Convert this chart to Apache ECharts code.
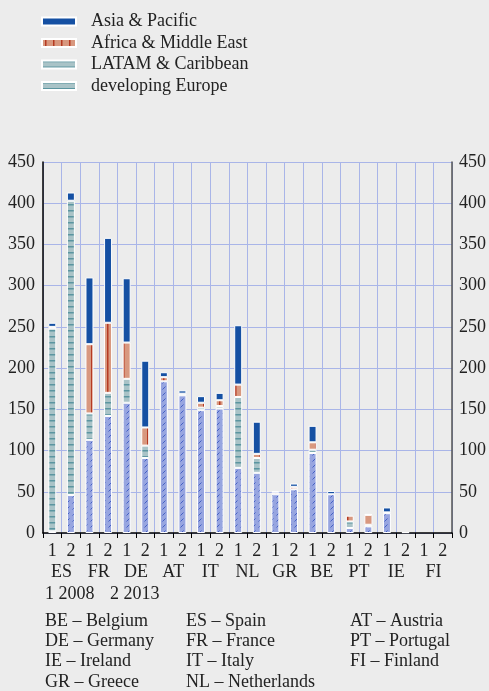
<!DOCTYPE html>
<html>
<head>
<meta charset="utf-8">
<script src="https://cdn.jsdelivr.net/npm/echarts@6/dist/echarts.min.js"></script>
<style>
  html, body { margin: 0; padding: 0; background: #ececec; }
  #chart { width: 489px; height: 691px; }
</style>
</head>
<body>
<div id="chart"></div>
<script>
// bars: 1 = 2008, 2 = 2013 for each country
const countries = ['ES', 'FR', 'DE', 'AT', 'IT', 'NL', 'GR', 'BE', 'PT', 'IE', 'FI'];
const periods = ['1', '2'];

// values, one per bar (country x period)
const devEurope = [2, 46, 113, 142, 158, 91, 184, 167, 149, 151, 79, 73, 47, 53, 97, 47, 6, 8, 24, 1, 0, 0];
const latam     = [246, 357, 32, 28, 29, 15, 0, 2, 3, 3, 86, 18, 0, 0, 4, 0, 8, 2, 1, 0, 0, 0];
const africaME  = [2, 0, 84, 85, 44, 22, 5, 0, 6, 7, 15, 5, 2, 3, 9, 0, 7, 12, 0, 0, 0, 0];
const asiaPac   = [5, 10, 81, 103, 78, 81, 6, 4, 8, 9, 72, 39, 2, 4, 20, 4, 0, 1, 6, 0, 0, 0];

const yTicks = [0, 50, 100, 150, 200, 250, 300, 350, 400, 450];

const periodNotes = ['1 2008', '2 2013'];
const countryNames = [
    ['BE – Belgium', 'ES – Spain', 'AT – Austria'],
    ['DE – Germany', 'FR – France', 'PT – Portugal'],
    ['IE – Ireland', 'IT – Italy', 'FI – Finland'],
    ['GR – Greece', 'NL – Netherlands', '']
];

const FONT = 'Liberation Serif';
const FS = 18;

// small canvas tiles for the hatched fills
function tile(w, h, base, draw) {
    const c = document.createElement('canvas');
    c.width = w; c.height = h;
    const ctx = c.getContext('2d');
    ctx.fillStyle = base;
    ctx.fillRect(0, 0, w, h);
    draw(ctx);
    return { image: c, repeat: 'repeat' };
}

const hatchBlue = tile(6, 6, '#97a5e0', (ctx) => {
    ctx.strokeStyle = '#4460c4';
    ctx.lineWidth = 1;
    ctx.beginPath();
    ctx.moveTo(0.5, 5.5);
    ctx.lineTo(3.5, 2.5);
    ctx.stroke();
});
const tealLines = tile(4, 6, '#a9c3c7', (ctx) => {
    ctx.fillStyle = '#5b95a0';
    ctx.fillRect(0, 0, 4, 1.5);
});
const redLines = tile(8, 8, '#d8987f', (ctx) => {
    ctx.fillStyle = '#b53a22';
    ctx.fillRect(3, 0, 1.5, 8);
});

const categories = [];
countries.forEach(() => periods.forEach(p => categories.push(p)));

const toBar = arr => arr.map(v => (v === 0 ? '-' : v));

function barSeries(name, data, color) {
    return {
        name: name,
        type: 'bar',
        stack: 'total',
        barWidth: 8,
        data: toBar(data),
        itemStyle: { color: color, borderColor: '#ffffff', borderWidth: 1 },
        emphasis: { disabled: true }
    };
}

const chart = echarts.init(document.getElementById('chart'));

const font = FS + 'px "' + FONT + '"';
const graphics = [
    { type: 'text', left: 45, top: 585, style: { text: periodNotes[0], font: font, fill: '#222' } },
    { type: 'text', left: 110, top: 585, style: { text: periodNotes[1], font: font, fill: '#222' } }
];
const colX = [45, 186, 350];
countryNames.forEach((row, r) => {
    row.forEach((t, c) => {
        if (!t) return;
        graphics.push({
            type: 'text', left: colX[c], top: 612 + r * 20.3,
            style: { text: t, font: font, fill: '#222' }
        });
    });
});

const option = {
    backgroundColor: '#ececec',
    animation: false,
    textStyle: { fontFamily: FONT },
    legend: {
        orient: 'vertical',
        left: 41,
        top: 12.5,
        padding: 0,
        itemWidth: 34,
        itemHeight: 8,
        itemGap: 3.5,
        selectedMode: false,
        textStyle: { fontFamily: FONT, fontSize: FS, color: '#222', padding: [0, 0, 0, 10], lineHeight: 18 },
        data: [
            { name: 'Asia & Pacific', icon: 'rect' },
            { name: 'Africa & Middle East', icon: 'rect' },
            { name: 'LATAM & Caribbean', icon: 'rect' },
            { name: 'developing Europe', icon: 'rect', itemStyle: { color: tealLines } }
        ]
    },
    grid: { left: 43, right: 34, top: 162, bottom: 158 },
    xAxis: [{
        type: 'category',
        data: categories,
        axisLine: { lineStyle: { color: '#000', width: 1.5 } },
        axisTick: { show: true, length: 5, lineStyle: { color: '#000' } },
        axisLabel: { color: '#222', fontSize: FS, fontFamily: FONT, margin: 9, interval: 0 },
        splitLine: { show: true, interval: 0, lineStyle: { color: '#a9b5e8', width: 1 } }
    }, {
        type: 'category',
        data: countries,
        position: 'bottom',
        offset: 21,
        axisLine: { show: false },
        axisTick: { show: false },
        axisLabel: { color: '#222', fontSize: FS, fontFamily: FONT, margin: 9, interval: 0 }
    }],
    yAxis: [{
        type: 'value',
        min: yTicks[0],
        max: yTicks[yTicks.length - 1],
        interval: 50,
        axisLine: { show: true, lineStyle: { color: '#000', width: 1.5 } },
        axisTick: { show: false },
        axisLabel: { color: '#222', fontSize: FS, fontFamily: FONT, margin: 8 },
        splitLine: { lineStyle: { color: '#a9b5e8', width: 1 } }
    }, {
        type: 'value',
        position: 'right',
        min: yTicks[0],
        max: yTicks[yTicks.length - 1],
        interval: 50,
        axisLine: { show: true, lineStyle: { color: '#555', width: 1.5 } },
        axisTick: { show: false },
        axisLabel: { color: '#222', fontSize: FS, fontFamily: FONT, margin: 7 },
        splitLine: { show: false }
    }],
    series: [
        barSeries('developing Europe', devEurope, hatchBlue),
        barSeries('LATAM & Caribbean', latam, tealLines),
        barSeries('Africa & Middle East', africaME, redLines),
        barSeries('Asia & Pacific', asiaPac, '#1550a3')
    ],
    graphic: graphics
};

chart.setOption(option);
</script>
</body>
</html>
